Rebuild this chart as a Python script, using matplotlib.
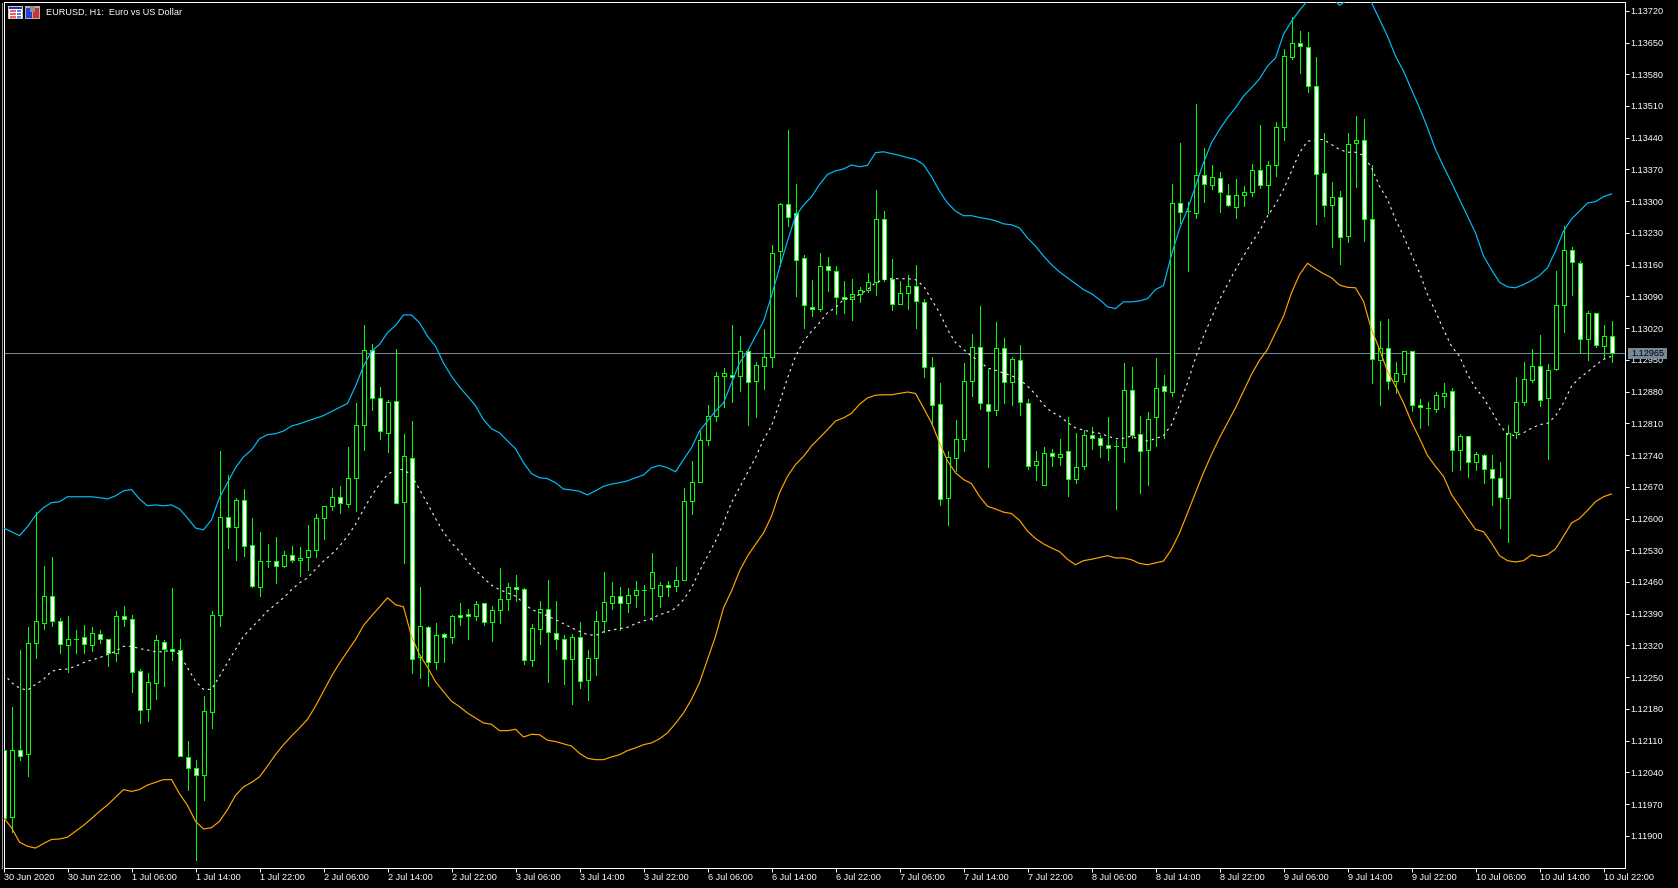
import numpy as np
import matplotlib
matplotlib.use("Agg")
import matplotlib.pyplot as plt
from matplotlib.patches import Rectangle

# Prices as points above 1.00000 (12090 = 1.12090)
opens = [12090,11942,12090,12081,12326,12370,12429,12374,12321,12335,
 12339,12321,12345,12335,12304,12385,12379,12264,12180,12238,
 12328,12313,12310,12074,12050,12035,12174,12387,12604,12582,
 12641,12541,12449,12506,12507,12496,12520,12509,12515,12531,
 12601,12628,12648,12632,12690,12807,12972,12866,12788,12860,
 12637,12734,12294,12361,12284,12346,12339,12388,12390,12385,
 12414,12372,12399,12423,12449,12445,12288,12357,12401,12348,
 12335,12290,12339,12243,12292,12374,12414,12429,12414,12432,
 12443,12447,12429,12454,12451,12465,12639,12681,12774,12827,
 12915,12916,12915,12970,12904,12937,12956,13190,13294,13274,
 13175,13067,13062,13157,13146,13089,13084,13095,13104,13121,
 13261,13129,13074,13098,13113,13078,12935,12853,12646,12734,
 12776,12903,12979,12853,12839,12976,12901,12950,12855,12718,
 12674,12745,12736,12749,12687,12716,12785,12777,12762,12759,
 12758,12884,12787,12752,12824,12893,12879,13296,13279,13274,
 13358,13336,13352,13314,13288,13314,13321,13369,13336,13380,
 13464,13618,13649,13640,13554,13362,13292,13310,13223,13429,
 13435,13261,12950,12977,12904,12919,12970,12851,12844,12842,
 12871,12882,12751,12783,12725,12740,12710,12690,12646,12791,
 12857,12906,12937,12866,12930,13071,13193,13164,12996,13054,
 12981,13003]
closes = [11939,12090,12076,12326,12374,12429,12374,12323,12335,12335,
 12323,12348,12335,12304,12385,12379,12261,12178,12240,12332,
 12313,12308,12076,12050,12035,12176,12387,12604,12582,12641,
 12540,12451,12507,12506,12496,12520,12509,12513,12531,12601,
 12628,12648,12635,12690,12807,12972,12866,12793,12857,12635,
 12738,12290,12363,12284,12343,12339,12385,12383,12385,12412,
 12372,12399,12423,12449,12445,12288,12359,12401,12350,12335,
 12290,12339,12242,12293,12374,12416,12429,12414,12432,12443,
 12443,12482,12454,12449,12465,12639,12681,12774,12827,12915,
 12921,12913,12970,12901,12939,12957,13186,13294,13265,13170,
 13071,13063,13157,13148,13088,13084,13096,13105,13122,13261,
 13129,13074,13098,13113,13080,12935,12851,12643,12736,12776,
 12904,12979,12855,12838,12976,12901,12952,12857,12716,12727,
 12745,12738,12743,12687,12714,12785,12777,12763,12756,12759,
 12884,12785,12749,12820,12888,12882,13296,13276,13279,13358,
 13338,13354,13321,13292,13314,13321,13369,13336,13380,13464,
 13621,13649,13643,13554,13360,13292,13310,13221,13427,13435,
 13261,12952,12977,12904,12921,12970,12851,12846,12844,12873,
 12877,12751,12783,12725,12743,12710,12690,12648,12788,12857,
 12908,12937,12862,12928,13071,13193,13166,12996,13054,12983,
 13003,12965]
highs = [12090,12184,12309,12361,12615,12496,12516,12381,12386,12355,
 12364,12361,12354,12335,12395,12406,12388,12268,12260,12342,
 12331,12446,12335,12110,12068,12209,12396,12750,12697,12646,
 12666,12602,12571,12543,12560,12529,12540,12538,12585,12611,
 12628,12668,12671,12757,12855,13026,12986,12889,12862,12973,
 12787,12815,12449,12363,12370,12348,12388,12413,12401,12419,
 12414,12408,12490,12458,12476,12447,12368,12418,12465,12417,
 12344,12346,12371,12311,12395,12483,12461,12448,12446,12463,
 12454,12525,12461,12463,12494,12668,12727,12793,12851,12924,
 12933,13026,13002,12973,12946,13017,13204,13296,13456,13339,
 13182,13127,13186,13176,13158,13125,13129,13111,13141,13324,
 13279,13173,13125,13138,13160,13085,12957,12898,12748,12818,
 12943,13006,13068,12930,13034,12999,12957,12983,12864,12750,
 12758,12754,12776,12824,12789,12796,12802,12785,12823,12774,
 12942,12935,12827,12834,12953,12917,13337,13429,13299,13515,
 13418,13379,13365,13337,13348,13334,13382,13467,13389,13474,
 13636,13707,13676,13674,13617,13451,13343,13323,13451,13487,
 13482,13380,13035,13040,12946,12970,12970,12864,12857,12879,
 12899,12888,12787,12783,12747,12743,12741,12725,12807,12913,
 12946,12975,13005,12940,13146,13246,13199,13168,13058,13054,
 13027,13036]
lows = [11939,11908,12067,12032,12292,12357,12362,12303,12261,12303,
 12303,12307,12325,12274,12285,12362,12218,12149,12153,12201,
 12230,12288,12076,12000,11846,11978,12137,12362,12536,12508,
 12518,12449,12429,12493,12457,12494,12503,12473,12487,12515,
 12554,12619,12613,12625,12616,12751,12840,12776,12746,12635,
 12501,12259,12248,12230,12268,12283,12325,12366,12335,12377,
 12365,12329,12369,12399,12417,12278,12274,12324,12240,12313,
 12236,12190,12227,12199,12254,12350,12401,12354,12393,12404,
 12388,12376,12404,12428,12441,12465,12610,12681,12763,12816,
 12847,12858,12882,12807,12825,12885,12934,13157,13246,13090,
 13021,13046,13057,13101,13052,13054,13039,13077,13099,13093,
 13124,13061,13074,13063,13021,12913,12807,12629,12585,12704,
 12748,12870,12842,12713,12828,12854,12850,12828,12710,12684,
 12674,12715,12719,12649,12679,12709,12754,12735,12730,12621,
 12724,12778,12657,12673,12759,12777,12871,13251,13147,13262,
 13299,13326,13276,13289,13263,13290,13312,13328,13273,13355,
 13435,13613,13582,13540,13249,13268,13198,13161,13209,13332,
 13213,12898,12851,12885,12876,12901,12838,12799,12807,12834,
 12845,12704,12707,12691,12708,12678,12629,12579,12548,12777,
 12850,12902,12848,12732,12928,13011,13092,12965,12949,12979,
 12953,12946]
band_upper = [12579,12571,12562,12582,12607,12624,12635,12637,12648,12648,
 12648,12648,12646,12643,12650,12661,12664,12643,12628,12630,
 12628,12630,12621,12601,12579,12575,12597,12646,12679,12712,
 12736,12751,12776,12785,12787,12793,12804,12809,12815,12821,
 12827,12836,12845,12854,12892,12936,12969,12984,13010,13026,
 13049,13049,13032,13002,12980,12943,12914,12890,12870,12849,
 12818,12798,12789,12771,12754,12723,12699,12690,12688,12679,
 12665,12663,12660,12652,12661,12671,12676,12679,12683,12690,
 12696,12712,12717,12712,12703,12730,12756,12793,12815,12837,
 12855,12899,12943,12969,13002,13035,13091,13153,13212,13267,
 13291,13310,13337,13359,13367,13371,13380,13376,13379,13407,
 13409,13405,13401,13396,13392,13381,13354,13322,13296,13278,
 13268,13268,13264,13261,13257,13250,13248,13241,13219,13201,
 13179,13160,13144,13131,13118,13105,13096,13083,13067,13063,
 13078,13078,13080,13085,13105,13114,13182,13239,13282,13333,
 13385,13429,13458,13484,13506,13532,13550,13570,13598,13616,
 13668,13697,13721,13742,13760,13775,13751,13732,13744,13760,
 13755,13738,13701,13664,13620,13587,13546,13506,13462,13414,
 13377,13341,13304,13267,13230,13179,13149,13121,13111,13109,
 13116,13125,13136,13153,13190,13234,13261,13278,13296,13299,
 13310,13316]
band_middle = [12258,12238,12226,12221,12234,12245,12263,12267,12268,12274,
 12282,12288,12293,12300,12307,12318,12318,12313,12310,12306,
 12306,12310,12300,12271,12241,12223,12223,12252,12282,12311,
 12340,12359,12377,12396,12410,12425,12443,12458,12469,12488,
 12506,12521,12539,12561,12587,12620,12650,12676,12697,12708,
 12708,12696,12664,12633,12600,12570,12546,12528,12506,12486,
 12469,12453,12443,12436,12429,12414,12399,12393,12385,12377,
 12368,12359,12351,12344,12342,12350,12354,12357,12360,12368,
 12374,12379,12388,12393,12402,12421,12447,12484,12517,12550,
 12590,12635,12668,12701,12734,12774,12804,12855,12910,12958,
 12991,13013,13032,13054,13065,13083,13087,13094,13105,13120,
 13127,13129,13129,13129,13127,13113,13083,13054,13017,12988,
 12973,12958,12947,12932,12927,12921,12915,12907,12892,12874,
 12851,12835,12826,12812,12800,12795,12791,12788,12782,12776,
 12777,12782,12774,12771,12776,12783,12807,12851,12899,12954,
 13002,13043,13083,13116,13149,13179,13208,13234,13267,13293,
 13326,13366,13407,13432,13436,13436,13425,13414,13408,13408,
 13401,13374,13333,13304,13260,13223,13182,13142,13094,13057,
 13017,12980,12958,12918,12888,12866,12837,12807,12785,12783,
 12789,12799,12807,12810,12826,12855,12892,12910,12923,12938,
 12951,12958]
band_lower = [11940,11918,11886,11877,11873,11883,11892,11893,11897,11910,
 11923,11938,11954,11968,11985,12002,11998,12002,12012,12018,
 12024,12024,11993,11967,11932,11915,11918,11932,11958,11989,
 12008,12018,12030,12054,12079,12101,12120,12138,12157,12186,
 12219,12252,12281,12307,12333,12364,12385,12405,12425,12410,
 12405,12340,12300,12272,12240,12218,12197,12185,12171,12160,
 12149,12146,12132,12132,12135,12118,12124,12123,12111,12108,
 12103,12098,12082,12071,12068,12068,12074,12079,12088,12094,
 12101,12105,12114,12127,12148,12171,12201,12238,12289,12340,
 12403,12440,12484,12517,12543,12568,12605,12657,12693,12719,
 12737,12760,12778,12796,12815,12822,12832,12852,12866,12872,
 12873,12873,12876,12879,12876,12844,12811,12767,12727,12701,
 12686,12677,12649,12627,12621,12614,12611,12596,12572,12556,
 12544,12535,12527,12510,12498,12507,12510,12514,12518,12513,
 12513,12509,12501,12498,12502,12506,12532,12568,12612,12657,
 12701,12741,12778,12811,12844,12881,12918,12949,12973,13010,
 13046,13098,13138,13163,13151,13140,13131,13115,13110,13109,
 13079,13017,12973,12925,12892,12855,12813,12777,12739,12715,
 12693,12653,12627,12601,12576,12571,12546,12518,12507,12504,
 12507,12520,12516,12520,12533,12561,12590,12600,12618,12637,
 12648,12654]
bid_points = 12965
price_ticks = [11900,11970,12040,12110,12180,12250,12320,12390,12460,12530,12600,12670,12740,
               12810,12880,12950,13020,13090,13160,13230,13300,13370,13440,13510,13580,13650,13720]
time_labels = ["30 Jun 2020","30 Jun 22:00","1 Jul 06:00","1 Jul 14:00","1 Jul 22:00","2 Jul 06:00",
               "2 Jul 14:00","2 Jul 22:00","3 Jul 06:00","3 Jul 14:00","3 Jul 22:00","6 Jul 06:00",
               "6 Jul 14:00","6 Jul 22:00","7 Jul 06:00","7 Jul 14:00","7 Jul 22:00","8 Jul 06:00",
               "8 Jul 14:00","8 Jul 22:00","9 Jul 06:00","9 Jul 14:00","9 Jul 22:00","10 Jul 06:00",
               "10 Jul 14:00","10 Jul 22:00"]
title = "EURUSD, H1:  Euro vs US Dollar"

def price(points):
    return (100000 + np.asarray(points, dtype=float)) / 1e5

W, H = 1678, 888
PX = 0.72  # one pixel in points at dpi 100
FS = 6.6
plt.rcParams["font.family"] = "Liberation Sans"

GREEN = "#00FF00"
o, c, hi, lo = price(opens), price(closes), price(highs), price(lows)
up, mid, dn = price(band_upper), price(band_middle), price(band_lower)
bid = float(price(bid_points))
x = np.arange(len(o))

LEFT, RIGHT, TOP, BOTTOM = 3.5, 1624.5, 2.2, 867.9
fig = plt.figure(figsize=(W / 100, H / 100), dpi=100, facecolor="black")
ax = fig.add_axes([LEFT / W, (H - BOTTOM) / H, (RIGHT - LEFT) / W, (BOTTOM - TOP) / H], facecolor="black")
ax.set_xlim(0, (RIGHT - LEFT) / 8)
px_per_price = 1 / 2.206e-5
Y_REF = 10.8
ax.set_ylim(1.13720 - (BOTTOM - Y_REF) / px_per_price, 1.13720 + (Y_REF - TOP) / px_per_price)

ax.axhline(bid, color="#778899", lw=PX, zorder=1, antialiased=False)
ax.vlines(x, lo, hi, color=GREEN, lw=PX, zorder=2, antialiased=False)
bear = c < o
ax.bar(x, np.abs(c - o), bottom=np.minimum(o, c), width=0.5,
       color=np.where(bear, "white", "black"), edgecolor=GREEN, linewidth=PX, zorder=3,
       antialiased=False)
ax.plot(x, up, color="#00BFFF", lw=0.85, zorder=4)
ax.plot(x, dn, color="#FFA500", lw=0.85, zorder=4)
ax.plot(x, mid, color="#F0F0F0", lw=0.8, ls=(0, (2.2, 3.4)), zorder=4)

for s in ax.spines.values():
    s.set_color("white")
    s.set_linewidth(PX)
    s.set_antialiased(False)

ax.yaxis.tick_right()
ax.set_yticks(price(price_ticks))
ax.set_yticklabels([f"{p:.5f}" for p in price(price_ticks)], fontsize=FS, color="white")
ax.set_xticks(x[::8][:len(time_labels)])
ax.set_xticklabels(time_labels, fontsize=FS, color="white", ha="left")
ax.tick_params(axis="y", length=2.9, width=PX, color="white", pad=1.2)
ax.tick_params(axis="x", length=2.9, width=PX, color="white", pad=1.0)

# price tag at the bid line
tag_y = 353.5
fig.add_artist(Rectangle((1628 / W, (H - 358.7) / H), 39 / W, 10.7 / H, transform=fig.transFigure,
                         fc="#778899", ec="none", zorder=10))
fig.text(1647.5 / W, (H - tag_y) / H, f"{bid:.5f}", color="black", fontsize=FS,
         ha="center", va="center", zorder=11)

def box(px, py, w, h, col):
    fig.add_artist(Rectangle((px / W, (H - py - h) / H), w / W, h / H, transform=fig.transFigure,
                             fc=col, ec="none", zorder=12))

# left edge strip
box(2, 3, 1, 866, "#9a9a9a")
# window icons
box(8, 6, 15, 13, "#c8c8c8")
box(9, 7, 13, 2, "#2030c0")
box(9, 9, 13, 9, "white")
for yy in (10, 13, 16):
    box(10, yy, 6, 2, "#f06060")
    box(17, yy, 4, 2, "#6080e0")
box(25, 6, 15, 13, "#b0b0b0")
box(26, 8, 6, 10, "#2040e0")
box(33, 8, 6, 10, "#d03030")
box(30, 6, 5, 6, "#909090")
fig.text(45.5 / W, (H - 12.5) / H, title, color="white", fontsize=FS, ha="left", va="center", zorder=11)

fig.savefig("out.png", dpi=100, facecolor="black")
